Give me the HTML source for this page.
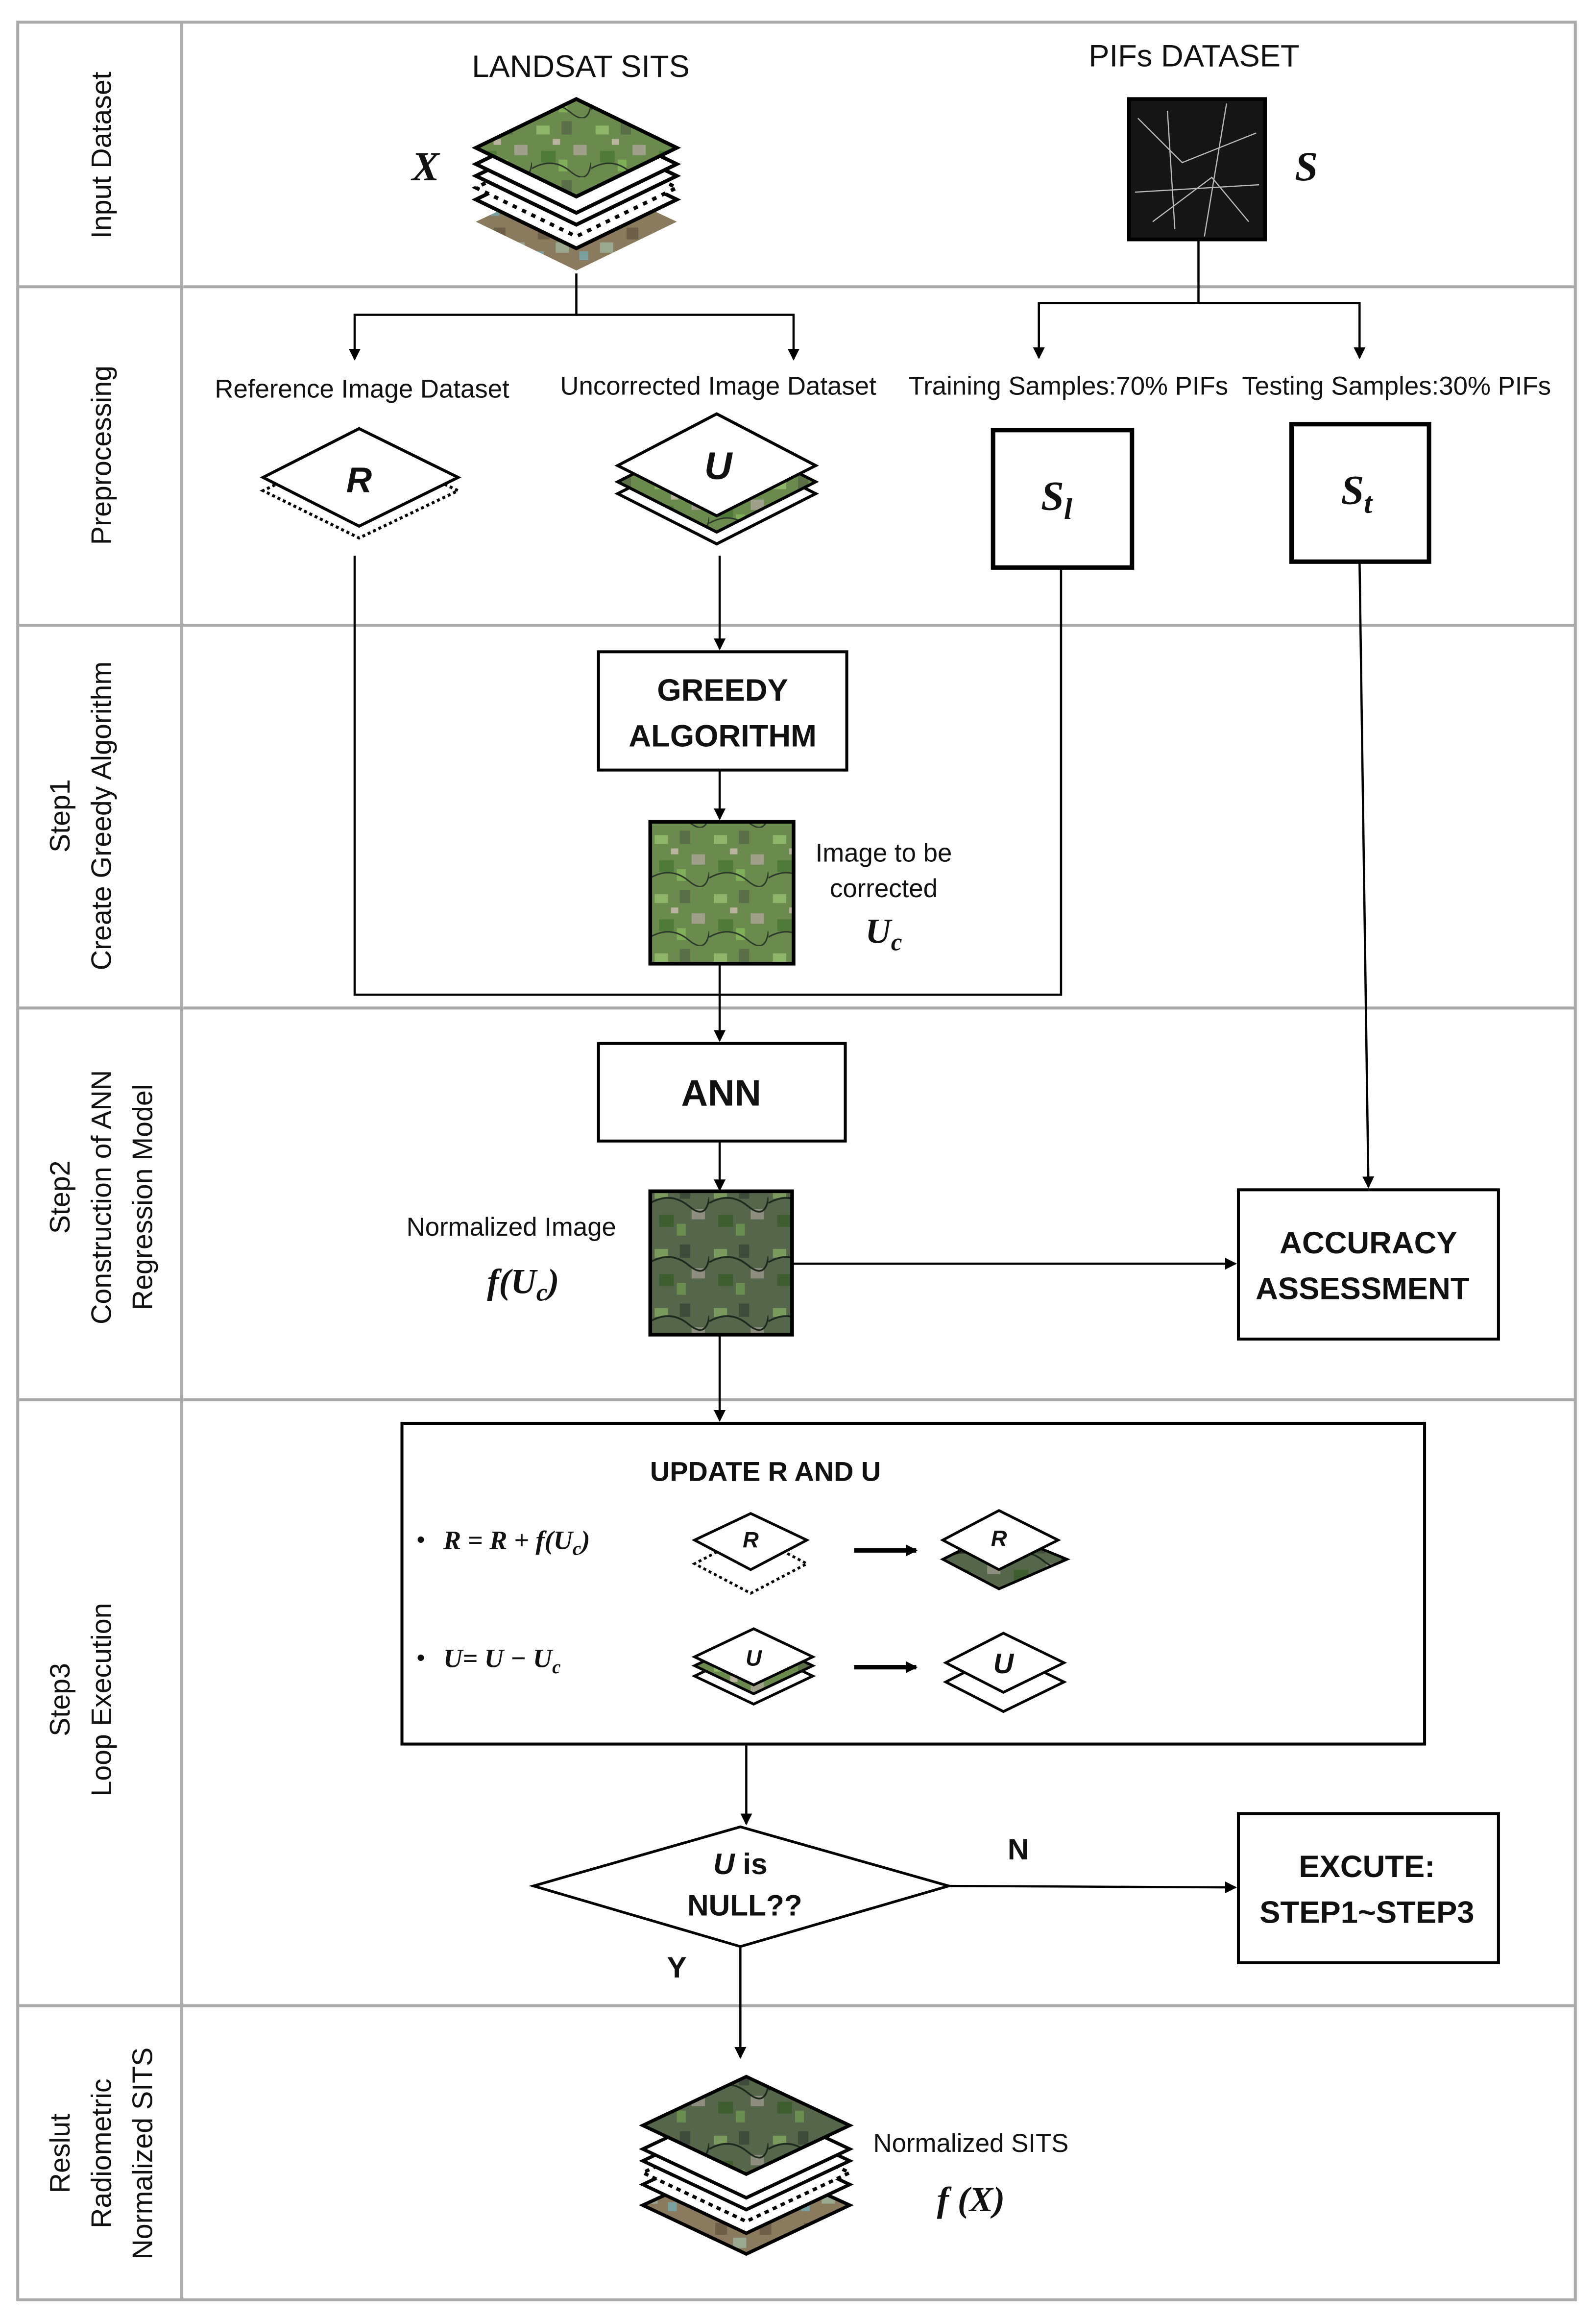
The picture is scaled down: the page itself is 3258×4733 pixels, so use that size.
<!DOCTYPE html>
<html><head><meta charset="utf-8"><style>
html,body{margin:0;padding:0;background:#fff}
svg{display:block}
text{font-family:"Liberation Sans","DejaVu Sans",sans-serif;fill:#111}
.b{font-weight:bold}
.m{font-family:"Liberation Serif",serif;font-weight:bold;font-style:italic}
</style></head><body>
<svg width="3258" height="4733" viewBox="0 0 1080 1569" preserveAspectRatio="none" xmlns="http://www.w3.org/2000/svg">
<defs>
<pattern id="sat" width="40" height="40" patternUnits="userSpaceOnUse">
<rect width="40" height="40" fill="#6a8a4e"/>
<rect x="3" y="5" width="9" height="6" fill="#8fb56a"/>
<rect x="20" y="2" width="7" height="9" fill="#5a6e48"/>
<rect x="28" y="18" width="9" height="7" fill="#a0a08a"/>
<rect x="6" y="22" width="10" height="8" fill="#4f7a3a"/>
<rect x="18" y="28" width="6" height="8" fill="#7fae58"/>
<rect x="14" y="14" width="5" height="4" fill="#b9b3a0"/>
<path d="M0 34 Q14 26 26 36 T40 30" stroke="#2d3a2a" stroke-width="1" fill="none"/>
</pattern>
<pattern id="sat2" width="40" height="40" patternUnits="userSpaceOnUse">
<rect width="40" height="40" fill="#56664a"/>
<rect x="3" y="5" width="9" height="6" fill="#7a9a5e"/>
<rect x="20" y="2" width="7" height="9" fill="#3e4a3a"/>
<rect x="28" y="18" width="9" height="7" fill="#8e8e80"/>
<rect x="6" y="22" width="10" height="8" fill="#3e5e30"/>
<rect x="18" y="28" width="6" height="8" fill="#6a8e50"/>
<path d="M0 14 Q14 6 26 16 T40 10" stroke="#1f2a1f" stroke-width="1.2" fill="none"/>
</pattern>
<pattern id="brn" width="30" height="30" patternUnits="userSpaceOnUse">
<rect width="30" height="30" fill="#8a7a5e"/>
<rect x="4" y="4" width="8" height="8" fill="#6e6048"/>
<rect x="16" y="14" width="9" height="7" fill="#9aa890"/>
<rect x="2" y="20" width="6" height="6" fill="#7aa0a0"/>
</pattern>
<marker id="ar" markerWidth="8" markerHeight="8" refX="7" refY="4" orient="auto" markerUnits="userSpaceOnUse"><path d="M0 0 L8 4 L0 8 z" fill="#000"/></marker>
</defs>

<!-- frame -->
<g fill="none" stroke="#aaa" stroke-width="2">
<rect x="12" y="15" width="1054" height="1541"/>
<line x1="123" y1="15" x2="123" y2="1556"/>
<line x1="12" y1="194" x2="1066" y2="194"/>
<line x1="12" y1="423" x2="1066" y2="423"/>
<line x1="12" y1="682" x2="1066" y2="682"/>
<line x1="12" y1="947" x2="1066" y2="947"/>
<line x1="12" y1="1357" x2="1066" y2="1357"/>
</g>

<!-- side labels -->
<g font-size="19" text-anchor="middle">
<text transform="translate(75,105) rotate(-90)">Input Dataset</text>
<text transform="translate(75,308) rotate(-90)">Preprocessing</text>
<text transform="translate(47,552) rotate(-90)">Step1</text>
<text transform="translate(75,552) rotate(-90)">Create Greedy Algorithm</text>
<text transform="translate(47,810) rotate(-90)">Step2</text>
<text transform="translate(75,810) rotate(-90)">Construction of ANN</text>
<text transform="translate(103,810) rotate(-90)">Regression Model</text>
<text transform="translate(47,1150) rotate(-90)">Step3</text>
<text transform="translate(75,1150) rotate(-90)">Loop Execution</text>
<text transform="translate(47,1457) rotate(-90)">Reslut</text>
<text transform="translate(75,1457) rotate(-90)">Radiometric</text>
<text transform="translate(103,1457) rotate(-90)">Normalized SITS</text>
</g>

<!-- Input dataset -->
<text x="393" y="52" font-size="21" text-anchor="middle">LANDSAT SITS</text>
<text x="288" y="122" font-size="28" class="m" text-anchor="middle">X</text>
<g stroke="#000" stroke-width="2.5">
<polygon points="390,118 458,150 390,183 322,150" fill="url(#brn)" stroke="none"/>
<polygon points="390,102 458,135 390,168 322,135" fill="#fff"/>
<polygon points="390,94 458,127 390,160 322,127" fill="#fff" stroke-dasharray="3,4"/>
<polygon points="390,86 458,119 390,152 322,119" fill="#fff"/>
<polygon points="390,78 458,111 390,144 322,111" fill="#fff"/>
<polygon points="390,67 458,100 390,133 322,100" fill="url(#sat)"/>
</g>
<text x="808" y="45" font-size="21" text-anchor="middle">PIFs DATASET</text>
<rect x="764" y="67" width="92" height="95" fill="#151515" stroke="#000" stroke-width="2.5"/>
<path d="M770 80 L800 110 L850 90 M780 150 L820 120 L845 150 M790 75 L795 155 M830 70 L815 160 M768 130 L852 125" stroke="#bbb" stroke-width="0.8" fill="none"/>
<text x="884" y="122" font-size="28" class="m" text-anchor="middle">S</text>

<!-- connectors top -->
<g stroke="#000" stroke-width="1.5" fill="none">
<polyline points="390,185 390,213 240,213 240,243" marker-end="url(#ar)"/>
<polyline points="390,213 537,213 537,243" marker-end="url(#ar)"/>
<polyline points="811,162 811,205 703,205 703,242" marker-end="url(#ar)"/>
<polyline points="811,205 920,205 920,242" marker-end="url(#ar)"/>
</g>
<g font-size="17.5" text-anchor="middle">
<text x="245" y="269">Reference Image Dataset</text>
<text x="486" y="267">Uncorrected Image Dataset</text>
<text x="723" y="267">Training Samples:70% PIFs</text>
<text x="945" y="267">Testing Samples:30% PIFs</text>
</g>

<!-- R and U diamonds -->
<g stroke="#000" stroke-width="2">
<polygon points="243,300 310,332 243,364 178,332" fill="#fff" stroke-dasharray="2,2"/>
<polygon points="243,290 310,323 243,356 178,323" fill="#fff"/>
<polygon points="485,300 552,334 485,368 418,334" fill="#fff"/>
<polygon points="485,292 552,326 485,360 418,326" fill="url(#sat)"/>
<polygon points="485,280 552,315 485,349 418,315" fill="#fff"/>
</g>
<text x="243" y="333" font-size="24" class="b" font-style="italic" text-anchor="middle">R</text>
<text x="486" y="324" font-size="26" class="b" font-style="italic" text-anchor="middle">U</text>
<rect x="672" y="291" width="94" height="93" fill="#fff" stroke="#000" stroke-width="3"/>
<rect x="874" y="287" width="93" height="93" fill="#fff" stroke="#000" stroke-width="3"/>
<text x="715" y="345" font-size="28" class="m" text-anchor="middle">S<tspan font-size="20" dy="6">l</tspan></text>
<text x="918" y="341" font-size="28" class="m" text-anchor="middle">S<tspan font-size="20" dy="6">t</tspan></text>

<!-- step1 -->
<g stroke="#000" stroke-width="1.5" fill="none">
<polyline points="240,376 240,673 718,673 718,384"/>
<line x1="487" y1="376" x2="487" y2="439" marker-end="url(#ar)"/>
<line x1="487" y1="521" x2="487" y2="554" marker-end="url(#ar)"/>
<line x1="487" y1="652" x2="487" y2="704" marker-end="url(#ar)"/>
<line x1="487" y1="772" x2="487" y2="805" marker-end="url(#ar)"/>
<line x1="536" y1="855" x2="836" y2="855" marker-end="url(#ar)"/>
<line x1="920" y1="380" x2="926" y2="803" marker-end="url(#ar)"/>
<line x1="487" y1="903" x2="487" y2="961" marker-end="url(#ar)"/>
</g>
<rect x="405" y="441" width="168" height="80" fill="#fff" stroke="#000" stroke-width="2"/>
<text x="489" y="474" font-size="21" class="b" text-anchor="middle">GREEDY</text>
<text x="489" y="505" font-size="21" class="b" text-anchor="middle">ALGORITHM</text>
<rect x="440" y="556" width="97" height="96" fill="url(#sat)" stroke="#000" stroke-width="2.5"/>
<text x="598" y="583" font-size="17.5" text-anchor="middle">Image to be</text>
<text x="598" y="607" font-size="17.5" text-anchor="middle">corrected</text>
<text x="598" y="638" font-size="24" class="m" text-anchor="middle">U<tspan font-size="17" dy="5">c</tspan></text>

<!-- step2 -->
<rect x="405" y="706" width="167" height="66" fill="#fff" stroke="#000" stroke-width="2"/>
<text x="488" y="748" font-size="25" class="b" text-anchor="middle">ANN</text>
<rect x="440" y="806" width="96" height="97" fill="url(#sat2)" stroke="#000" stroke-width="2.5"/>
<text x="346" y="836" font-size="17.5" text-anchor="middle">Normalized Image</text>
<text x="354" y="875" font-size="24" class="m" text-anchor="middle">f(U<tspan font-size="17" dy="5">c</tspan><tspan dy="-5">)</tspan></text>
<rect x="838" y="805" width="176" height="101" fill="#fff" stroke="#000" stroke-width="2"/>
<text x="926" y="848" font-size="21" class="b" text-anchor="middle">ACCURACY</text>
<text x="922" y="879" font-size="21" class="b" text-anchor="middle">ASSESSMENT</text>

<!-- step3 -->
<rect x="272" y="963" width="692" height="217" fill="#fff" stroke="#000" stroke-width="2"/>
<text x="518" y="1002" font-size="18.5" class="b" text-anchor="middle">UPDATE  R  AND   U</text>
<text x="282" y="1047" font-size="16">•</text>
<text x="300" y="1048" font-size="18" class="m">R = R + f(U<tspan font-size="13" dy="4">c</tspan><tspan dy="-4">)</tspan></text>
<text x="282" y="1127" font-size="16">•</text>
<text x="300" y="1128" font-size="18" class="m">U= U − U<tspan font-size="13" dy="4">c</tspan></text>
<g stroke="#000" stroke-width="1.8">
<polygon points="508,1038 546,1058 508,1078 470,1058" fill="#fff" stroke-dasharray="2,2"/>
<polygon points="508,1024 546,1042 508,1062 470,1042" fill="#fff"/>
<polygon points="676,1036 722,1055 676,1075 638,1055" fill="url(#sat2)"/>
<polygon points="676,1022 716,1042 676,1062 638,1042" fill="#fff"/>
<polygon points="510,1115 550,1134 510,1153 470,1134" fill="#fff"/>
<polygon points="510,1108 550,1127 510,1146 470,1127" fill="url(#sat)"/>
<polygon points="510,1102 550,1121 510,1140 470,1121" fill="#fff"/>
<polygon points="679,1118 720,1138 679,1158 640,1138" fill="#fff"/>
<polygon points="679,1105 720,1125 679,1145 640,1125" fill="#fff"/>
</g>
<g font-size="15" class="b" font-style="italic" text-anchor="middle">
<text x="508" y="1047">R</text><text x="676" y="1046">R</text>
<text x="510" y="1127">U</text><text x="679" y="1132" font-size="19">U</text>
</g>
<line x1="578" y1="1049" x2="620" y2="1049" stroke="#000" stroke-width="3" marker-end="url(#ar)"/>
<line x1="578" y1="1128" x2="620" y2="1128" stroke="#000" stroke-width="3" marker-end="url(#ar)"/>

<g stroke="#000" stroke-width="1.5" fill="none">
<line x1="505" y1="1181" x2="505" y2="1234" marker-end="url(#ar)"/>
<line x1="642" y1="1276" x2="836" y2="1277" marker-end="url(#ar)"/>
<line x1="501" y1="1317" x2="501" y2="1392" marker-end="url(#ar)"/>
</g>
<polygon points="501,1236 642,1276 501,1317 361,1276" fill="#fff" stroke="#000" stroke-width="1.8"/>
<text x="501" y="1268" font-size="20" class="b" text-anchor="middle"><tspan font-style="italic">U</tspan> is</text>
<text x="504" y="1296" font-size="20" class="b" text-anchor="middle">NULL??</text>
<text x="689" y="1258" font-size="20" class="b" text-anchor="middle">N</text>
<text x="458" y="1338" font-size="20" class="b" text-anchor="middle">Y</text>
<rect x="838" y="1227" width="176" height="101" fill="#fff" stroke="#000" stroke-width="2"/>
<text x="925" y="1270" font-size="21" class="b" text-anchor="middle">EXCUTE:</text>
<text x="925" y="1301" font-size="21" class="b" text-anchor="middle">STEP1~STEP3</text>

<!-- result -->
<g stroke="#000" stroke-width="2.3">
<polygon points="505,1460 575,1492 505,1525 435,1492" fill="url(#brn)"/>
<polygon points="505,1445 575,1478 505,1511 435,1478" fill="#fff"/>
<polygon points="505,1437 575,1470 505,1503 435,1470" fill="#fff" stroke-dasharray="3,3"/>
<polygon points="505,1429 575,1462 505,1495 435,1462" fill="#fff"/>
<polygon points="505,1421 575,1454 505,1487 435,1454" fill="#fff"/>
<polygon points="505,1405 575,1438 505,1471 435,1438" fill="url(#sat2)"/>
</g>
<text x="657" y="1456" font-size="17.5" text-anchor="middle">Normalized SITS</text>
<text x="657" y="1496" font-size="24" class="m" text-anchor="middle">f (X)</text>
</svg>
</body></html>
